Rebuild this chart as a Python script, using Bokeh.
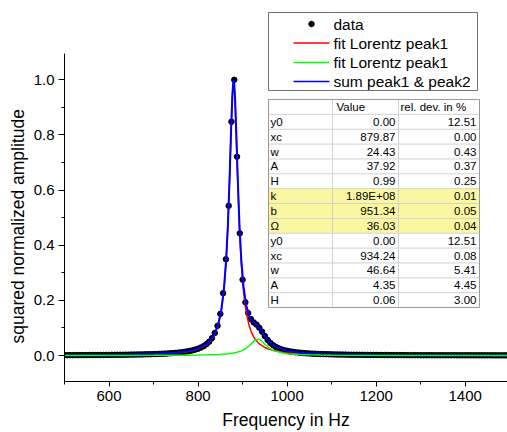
from bokeh.plotting import figure
from bokeh.models import Range1d, SingleIntervalTicker, PrintfTickFormatter, Title
from bokeh.core.properties import value
from bokeh.embed import file_html
from bokeh.resources import INLINE

# ---------------- data ----------------
FREQ = [
    500, 506.25, 512.5, 518.75, 525, 531.25, 537.5, 543.75, 550, 556.25,
    562.5, 568.75, 575, 581.25, 587.5, 593.75, 600, 606.25, 612.5, 618.75,
    625, 631.25, 637.5, 643.75, 650, 656.25, 662.5, 668.75, 675, 681.25,
    687.5, 693.75, 700, 706.25, 712.5, 718.75, 725, 731.25, 737.5, 743.75,
    750, 756.25, 762.5, 768.75, 775, 781.25, 787.5, 793.75, 800, 806.25,
    812.5, 818.75, 825, 831.25, 837.5, 843.75, 850, 856.25, 862.5, 868.75,
    875, 881.25, 887.5, 893.75, 900, 906.25, 912.5, 918.75, 925, 931.25,
    937.5, 943.75, 950, 956.25, 962.5, 968.75, 975, 981.25, 987.5, 993.75,
    1000, 1006.25, 1012.5, 1018.75, 1025, 1031.25, 1037.5, 1043.75, 1050, 1056.25,
    1062.5, 1068.75, 1075, 1081.25, 1087.5, 1093.75, 1100, 1106.25, 1112.5, 1118.75,
    1125, 1131.25, 1137.5, 1143.75, 1150, 1156.25, 1162.5, 1168.75, 1175, 1181.25,
    1187.5, 1193.75, 1200, 1206.25, 1212.5, 1218.75, 1225, 1231.25, 1237.5, 1243.75,
    1250, 1256.25, 1262.5, 1268.75, 1275, 1281.25, 1287.5, 1293.75, 1300, 1306.25,
    1312.5, 1318.75, 1325, 1331.25, 1337.5, 1343.75, 1350, 1356.25, 1362.5, 1368.75,
    1375, 1381.25, 1387.5, 1393.75, 1400, 1406.25, 1412.5, 1418.75, 1425, 1431.25,
    1437.5, 1443.75, 1450, 1456.25, 1462.5, 1468.75, 1475, 1481.25, 1487.5, 1493.75,
    1500,
]
AMPLITUDE = [
    0.0012, 0.0012, 0.0013, 0.0013, 0.0014, 0.0014, 0.0015, 0.0015, 0.0016, 0.0016,
    0.0017, 0.0018, 0.0018, 0.0019, 0.0020, 0.0021, 0.0022, 0.0023, 0.0024, 0.0025,
    0.0026, 0.0027, 0.0029, 0.0030, 0.0032, 0.0034, 0.0035, 0.0038, 0.0040, 0.0042,
    0.0045, 0.0048, 0.0051, 0.0055, 0.0059, 0.0063, 0.0068, 0.0074, 0.0080, 0.0088,
    0.0096, 0.0106, 0.0117, 0.0130, 0.0146, 0.0165, 0.0187, 0.0214, 0.0247, 0.0288,
    0.0340, 0.0410, 0.0502, 0.0630, 0.0815, 0.1075, 0.1510, 0.2260, 0.3490, 0.5430,
    0.8480, 1.0000, 0.7210, 0.4430, 0.2750, 0.1930, 0.1540, 0.1320, 0.1200, 0.1120,
    0.1010, 0.0865, 0.0705, 0.0565, 0.0455, 0.0372, 0.0309, 0.0260, 0.0222, 0.0192,
    0.0168, 0.0148, 0.0132, 0.0118, 0.0106, 0.0096, 0.0088, 0.0080, 0.0074, 0.0068,
    0.0063, 0.0058, 0.0054, 0.0051, 0.0048, 0.0045, 0.0042, 0.0039, 0.0037, 0.0035,
    0.0033, 0.0032, 0.0030, 0.0028, 0.0027, 0.0026, 0.0025, 0.0023, 0.0022, 0.0021,
    0.0021, 0.0020, 0.0019, 0.0018, 0.0017, 0.0017, 0.0016, 0.0016, 0.0015, 0.0014,
    0.0014, 0.0014, 0.0013, 0.0013, 0.0012, 0.0012, 0.0011, 0.0011, 0.0011, 0.0010,
    0.0010, 0.0010, 0.0010, 0.0009, 0.0009, 0.0009, 0.0009, 0.0008, 0.0008, 0.0008,
    0.0008, 0.0007, 0.0007, 0.0007, 0.0007, 0.0007, 0.0007, 0.0006, 0.0006, 0.0006,
    0.0006, 0.0006, 0.0006, 0.0006, 0.0005, 0.0005, 0.0005, 0.0005, 0.0005, 0.0005,
    0.0005,
]

FIT_X = [500, 550, 600, 650, 700, 750, 780, 800, 820, 835, 845, 852, 858, 863, 867,
         871, 874, 877, 879, 880, 881, 883, 886, 889, 893, 897, 902, 908, 915, 920,
         925, 930, 935, 940, 950, 960, 970, 990, 1000, 1025, 1050, 1075, 1100, 1200,
         1300, 1400, 1500]
FIT_PEAK1 = [0.00102, 0.00135, 0.00188, 0.00278, 0.00454, 0.00867, 0.01456, 0.02258,
             0.0395, 0.0682, 0.108, 0.159, 0.235, 0.340, 0.468, 0.647, 0.803, 0.936,
             0.983, 0.988, 0.980, 0.927, 0.789, 0.634, 0.458, 0.333, 0.231, 0.157,
             0.1066, 0.0838, 0.0674, 0.0554, 0.0462, 0.0392, 0.0291, 0.0224, 0.0178,
             0.0120, 0.0101, 0.00695, 0.00506, 0.00386, 0.00303, 0.00144, 0.000835,
             0.000545, 0.000383]
FIT_PEAK2 = [0.00017, 0.00022, 0.00029, 0.00040, 0.00058, 0.00094, 0.00133, 0.00174,
             0.00238, 0.00311, 0.00380, 0.00442, 0.00508, 0.00575, 0.00638, 0.00711,
             0.00774, 0.00846, 0.00898, 0.00927, 0.00956, 0.01025, 0.01125, 0.01247,
             0.01439, 0.01673, 0.0204, 0.0262, 0.0353, 0.0433, 0.0513, 0.0575, 0.0593,
             0.0560, 0.0408, 0.0268, 0.0177, 0.0088, 0.00664, 0.00368, 0.00232,
             0.00159, 0.00115, 0.00045, 0.00024, 0.00015, 0.00010]
FIT_SUM = [0.00119, 0.00157, 0.00217, 0.00318, 0.00512, 0.00961, 0.01589, 0.02432,
           0.04188, 0.07131, 0.1118, 0.1634, 0.2401, 0.3458, 0.4744, 0.6541, 0.8107,
           0.9445, 0.9920, 0.9973, 0.9896, 0.9373, 0.8003, 0.6465, 0.4724, 0.3497,
           0.2514, 0.1832, 0.1419, 0.1271, 0.1187, 0.1129, 0.1055, 0.0952, 0.0699,
           0.0492, 0.0355, 0.0208, 0.01675, 0.01063, 0.00738, 0.00545, 0.00418,
           0.00189, 0.00108, 0.00069, 0.00048]

X_LABEL = "Frequency in Hz"
Y_LABEL = "squared normalized amplitude"
LEGEND_LABELS = ["data", "fit Lorentz peak1", "fit Lorentz peak1", "sum peak1 & peak2"]
TABLE_HEADER = ["", "Value", "rel. dev. in %"]
PARAM_NAMES = ["y0", "xc", "w", "A", "H", "k", "b", "\u03a9", "y0", "xc", "w", "A", "H"]
PARAM_VALUES = ["0.00", "879.87", "24.43", "37.92", "0.99", "1.89E+08", "951.34",
                "36.03", "0.00", "934.24", "46.64", "4.35", "0.06"]
PARAM_REL_DEV = ["12.51", "0.00", "0.43", "0.37", "0.25", "0.01", "0.05", "0.04",
                 "12.51", "0.08", "5.41", "4.45", "3.00"]
HIGHLIGHTED = [5, 6, 7]

# ---------------- layout (pixels) ----------------
W, H = 507, 432
FL, FR, FT, FB = 64, 507, 0, 381          # frame edges in canvas pixels
X0, X1 = 500, 1495
PX_PER_UNIT_Y = 275.7
ZERO_PY = 355
Y0 = -(FB - ZERO_PY) / PX_PER_UNIT_Y
Y1 = Y0 + (FB - FT) / PX_PER_UNIT_Y
AXIS_TOP = 1.097

def X(px):
    return X0 + (px - FL) / (FR - FL) * (X1 - X0)

def Y(py):
    return Y0 + (FB - py) / (FB - FT) * (Y1 - Y0)

FONT = value("Liberation Sans")

p = figure(width=W, height=H, output_backend="svg", toolbar_location=None,
           x_range=Range1d(X0, X1), y_range=Range1d(Y0, Y1),
           min_border_left=FL, min_border_right=0, min_border_top=0,
           min_border_bottom=H - FB)
p.outline_line_color = None
p.grid.visible = False
p.background_fill_color = "white"
p.border_fill_color = "white"

p.xaxis.ticker = SingleIntervalTicker(interval=200, num_minor_ticks=2)
p.yaxis.ticker = SingleIntervalTicker(interval=0.2, num_minor_ticks=2)
p.yaxis.formatter = PrintfTickFormatter(format="%.1f")
p.yaxis.bounds = (Y0, AXIS_TOP)
p.xaxis.axis_label = X_LABEL
for ax in (p.xaxis, p.yaxis):
    ax.axis_line_color = "black"
    ax.major_tick_line_color = "black"
    ax.minor_tick_line_color = "black"
    ax.major_tick_in = 0
    ax.minor_tick_in = 0
    ax.major_tick_out = 6
    ax.minor_tick_out = 3
    ax.major_label_text_font = "Liberation Sans"
    ax.major_label_text_font_size = "15px"
    ax.major_label_text_color = "black"
    ax.axis_label_text_font = "Liberation Sans"
    ax.axis_label_text_font_size = "17.5px"
    ax.axis_label_text_font_style = "normal"
    ax.axis_label_text_color = "black"
p.xaxis.major_tick_out = 5
p.xaxis.major_label_standoff = 4
p.xaxis.axis_label_standoff = 6
p.yaxis.major_label_standoff = 4

# y-axis title as a side title, started 38 px above the frame bottom
p.add_layout(Title(text=Y_LABEL, align="left", offset=38, standoff=6,
                   text_font="Liberation Sans", text_font_size="17.5px",
                   text_font_style="normal", text_color="black"), "left")

# ---------------- series ----------------
p.scatter(FREQ, AMPLITUDE, size=5.5, color="black")
p.line(FIT_X, FIT_PEAK1, line_color="#FF0000", line_width=1.5)
p.line(FIT_X, FIT_SUM, line_color="#0000FF", line_width=2)
p.line(FIT_X, FIT_PEAK2, line_color="#00FF00", line_width=1.5)

# ---------------- legend ----------------
LG_L, LG_R, LG_T, LG_B = 268, 477, 12, 90
p.quad(left=[X(LG_L)], right=[X(LG_R)], top=[Y(LG_T)], bottom=[Y(LG_B)],
       fill_color="white", line_color="#707070", line_width=1)
row_py = [23.5, 42.5, 62, 81]
p.scatter([X(311)], [Y(row_py[0])], size=5.5, color="black")
for py, col in zip(row_py[1:], ["#FF0000", "#00FF00", "#0000FF"]):
    p.segment(x0=[X(293)], x1=[X(329)], y0=[Y(py)], y1=[Y(py)],
              line_color=col, line_width=1.5)
p.text(x=[X(333)] * 4, y=[Y(py) for py in row_py], text=LEGEND_LABELS,
       text_font=FONT, text_font_size="15.5px", text_baseline="middle",
       text_align="left", text_color="black")

# ---------------- parameter table ----------------
TB_L, TB_R, TB_T = 268, 479, 99
ROW_H = 14.86
COL1, COL2 = 332, 398
n_rows = len(PARAM_NAMES) + 1
TB_B = TB_T + n_rows * ROW_H
p.quad(left=[X(TB_L)], right=[X(TB_R)], top=[Y(TB_T)], bottom=[Y(TB_B)],
       fill_color="white", line_color=None)
for i in HIGHLIGHTED:
    top = TB_T + (i + 1) * ROW_H
    p.quad(left=[X(TB_L)], right=[X(TB_R)], top=[Y(top)], bottom=[Y(top + ROW_H)],
           fill_color="#FBF7A0", line_color=None)
hy = [TB_T + r * ROW_H for r in range(1, n_rows)]
p.segment(x0=[X(TB_L)] * len(hy), x1=[X(TB_R)] * len(hy), y0=[Y(v) for v in hy],
          y1=[Y(v) for v in hy], line_color="#D2D2D2", line_width=1)
p.segment(x0=[X(COL1), X(COL2)], x1=[X(COL1), X(COL2)], y0=[Y(TB_T)] * 2,
          y1=[Y(TB_B)] * 2, line_color="#D2D2D2", line_width=1)
p.quad(left=[X(TB_L)], right=[X(TB_R)], top=[Y(TB_T)], bottom=[Y(TB_B)],
       fill_color=None, line_color="#9A9A9A", line_width=1)

centers = [TB_T + (r + 0.5) * ROW_H for r in range(n_rows)]
p.text(x=[X(COL1 + 4), X(COL2 + 2)], y=[Y(centers[0])] * 2, text=TABLE_HEADER[1:],
       text_font=FONT, text_font_size="11.5px", text_baseline="middle",
       text_align="left", text_color="black")
p.text(x=[X(TB_L + 2)] * len(PARAM_NAMES), y=[Y(c) for c in centers[1:]],
       text=PARAM_NAMES, text_font=FONT, text_font_size="11.5px",
       text_baseline="middle", text_align="left", text_color="black")
p.text(x=[X(COL2 - 3)] * len(PARAM_VALUES), y=[Y(c) for c in centers[1:]],
       text=PARAM_VALUES, text_font=FONT, text_font_size="11.5px",
       text_baseline="middle", text_align="right", text_color="black")
p.text(x=[X(TB_R - 3)] * len(PARAM_REL_DEV), y=[Y(c) for c in centers[1:]],
       text=PARAM_REL_DEV, text_font=FONT, text_font_size="11.5px",
       text_baseline="middle", text_align="right", text_color="black")

open("out.html", "w").write(file_html(p, INLINE))
